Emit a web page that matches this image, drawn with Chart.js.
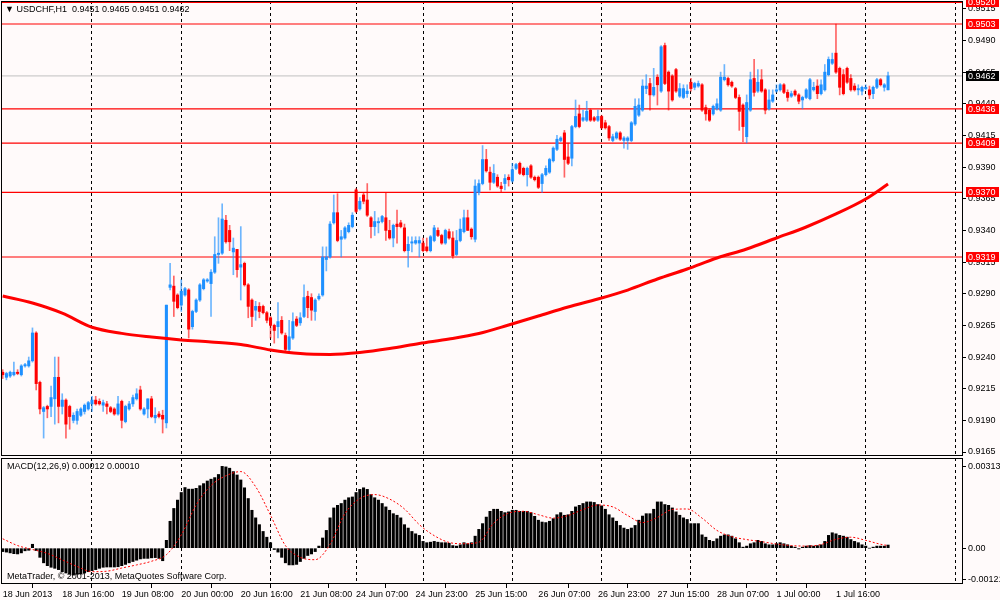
<!DOCTYPE html>
<html lang="en">
<head>
<meta charset="UTF-8">
<title>USDCHF,H1</title>
<script src="https://cdn.jsdelivr.net/npm/chart.js"></script>
<style>
  body { margin: 0; background: #fffafa; font-family: "Liberation Sans", Arial, sans-serif; }
  #wrap { position: relative; width: 1000px; height: 600px; overflow: hidden; background: #fffafa; }
  #mainBox { position: absolute; left: 0; top: 0; width: 1000px; height: 457px; }
  #macdBox { position: absolute; left: 0; top: 457px; width: 1000px; height: 143px; }
  .lbl { position: absolute; font-size: 9px; line-height: 11px; color: #000; white-space: pre; }
</style>
</head>
<body>
<div id="wrap">
  <div id="mainBox"><canvas id="mainChart"></canvas></div>
  <div id="macdBox"><canvas id="macdChart"></canvas></div>
  <div class="lbl" style="left:5px;top:4px;">▼ USDCHF,H1  0.9451 0.9465 0.9451 0.9462</div>
  <div class="lbl" style="left:7px;top:461px;">MACD(12,26,9) 0.00012 0.00010</div>
  <div class="lbl" style="left:7px;top:571px;">MetaTrader, © 2001-2013, MetaQuotes Software Corp.</div>
</div>

<script>
// candles, H1, 18 Jun 2013 00:00 .. 2 Jul 2013 06:00
const opens = [
  0.9228,0.9224,0.9225,0.9226,0.9228,0.9226,0.9233,0.9233,0.9237,0.9259,
  0.9220,0.9197,0.9201,0.9201,0.9207,0.9224,0.9201,0.9206,0.9201,0.9190,
  0.9190,0.9194,0.9197,0.9199,0.9203,0.9206,0.9205,0.9202,0.9203,0.9200,
  0.9199,0.9195,0.9205,0.9189,0.9199,0.9203,0.9207,0.9214,0.9195,0.9199,
  0.9207,0.9192,0.9195,0.9194,0.9188,0.9295,0.9296,0.9289,0.9281,0.9289,
  0.9293,0.9264,0.9276,0.9285,0.9294,0.9300,0.9298,0.9307,0.9321,0.9322,
  0.9348,0.9340,0.9323,0.9325,0.9311,0.9314,0.9297,0.9285,0.9277,0.9280,
  0.9280,0.9275,0.9271,0.9265,0.9264,0.9269,0.9257,0.9246,0.9255,0.9270,
  0.9267,0.9272,0.9288,0.9287,0.9276,0.9286,0.9289,0.9317,0.9319,0.9346,
  0.9354,0.9333,0.9334,0.9339,0.9343,0.9372,0.9357,0.9368,0.9364,0.9350,
  0.9343,0.9346,0.9347,0.9350,0.9340,0.9334,0.9345,0.9346,0.9342,0.9324,
  0.9330,0.9330,0.9330,0.9330,0.9327,0.9324,0.9332,0.9340,0.9336,0.9330,
  0.9339,0.9334,0.9321,0.9332,0.9339,0.9350,0.9341,0.9333,0.9370,0.9377,
  0.9396,0.9386,0.9378,0.9382,0.9375,0.9377,0.9382,0.9379,0.9389,0.9393,
  0.9389,0.9384,0.9391,0.9382,0.9382,0.9377,0.9384,0.9386,0.9395,0.9404,
  0.9411,0.9417,0.9398,0.9397,0.9422,0.9432,0.9427,0.9427,0.9435,0.9429,
  0.9427,0.9430,0.9425,0.9422,0.9411,0.9413,0.9417,0.9411,0.9411,0.9411,
  0.9424,0.9431,0.9435,0.9452,0.9456,0.9447,0.9461,0.9450,0.9486,0.9465,
  0.9462,0.9467,0.9446,0.9445,0.9448,0.9457,0.9453,0.9454,0.9455,0.9437,
  0.9435,0.9432,0.9436,0.9435,0.9459,0.9460,0.9457,0.9452,0.9445,0.9439,
  0.9414,0.9435,0.9460,0.9450,0.9459,0.9451,0.9436,0.9442,0.9450,0.9451,
  0.9455,0.9449,0.9446,0.9450,0.9447,0.9443,0.9445,0.9444,0.9451,0.9454,
  0.9448,0.9451,0.9463,0.9472,0.9480,0.9468,0.9463,0.9468,0.9460,0.9454,
  0.9451,0.9450,0.9452,0.9451,0.9448,0.9453,0.9459,0.9453,0.9451
];
const highs = [
  0.9230,0.9228,0.9229,0.9236,0.9230,0.9234,0.9235,0.9240,0.9263,0.9260,
  0.9221,0.9201,0.9202,0.9217,0.9240,0.9240,0.9211,0.9207,0.9202,0.9196,
  0.9199,0.9200,0.9203,0.9205,0.9209,0.9209,0.9207,0.9206,0.9205,0.9201,
  0.9200,0.9209,0.9206,0.9202,0.9205,0.9210,0.9215,0.9217,0.9200,0.9207,
  0.9209,0.9200,0.9197,0.9198,0.9281,0.9314,0.9304,0.9290,0.9301,0.9295,
  0.9294,0.9277,0.9286,0.9298,0.9302,0.9302,0.9309,0.9335,0.9350,0.9361,
  0.9352,0.9344,0.9334,0.9325,0.9343,0.9315,0.9298,0.9286,0.9284,0.9283,
  0.9281,0.9276,0.9272,0.9266,0.9283,0.9272,0.9259,0.9269,0.9275,0.9272,
  0.9275,0.9297,0.9292,0.9290,0.9286,0.9290,0.9327,0.9327,0.9347,0.9368,
  0.9369,0.9340,0.9343,0.9346,0.9354,0.9373,0.9366,0.9370,0.9377,0.9351,
  0.9355,0.9350,0.9352,0.9370,0.9348,0.9345,0.9356,0.9348,0.9345,0.9335,
  0.9335,0.9335,0.9335,0.9334,0.9334,0.9336,0.9344,0.9342,0.9337,0.9341,
  0.9341,0.9339,0.9340,0.9349,0.9356,0.9356,0.9342,0.9380,0.9380,0.9407,
  0.9404,0.9390,0.9392,0.9384,0.9378,0.9384,0.9384,0.9393,0.9393,0.9394,
  0.9390,0.9390,0.9392,0.9383,0.9383,0.9385,0.9391,0.9397,0.9406,0.9415,
  0.9414,0.9419,0.9409,0.9423,0.9443,0.9439,0.9435,0.9442,0.9436,0.9430,
  0.9435,0.9431,0.9427,0.9423,0.9416,0.9418,0.9418,0.9414,0.9414,0.9426,
  0.9444,0.9444,0.9459,0.9463,0.9460,0.9468,0.9463,0.9486,0.9488,0.9466,
  0.9463,0.9468,0.9456,0.9455,0.9455,0.9460,0.9457,0.9458,0.9456,0.9439,
  0.9436,0.9439,0.9444,0.9465,0.9471,0.9461,0.9458,0.9453,0.9447,0.9440,
  0.9447,0.9465,0.9475,0.9467,0.9467,0.9452,0.9451,0.9451,0.9455,0.9456,
  0.9456,0.9451,0.9450,0.9451,0.9448,0.9446,0.9452,0.9460,0.9457,0.9459,
  0.9459,0.9471,0.9477,0.9480,0.9503,0.9469,0.9467,0.9469,0.9463,0.9456,
  0.9455,0.9454,0.9455,0.9454,0.9454,0.9460,0.9460,0.9456,0.9465
];
const lows = [
  0.9223,0.9222,0.9224,0.9225,0.9226,0.9225,0.9232,0.9232,0.9236,0.9214,
  0.9195,0.9176,0.9192,0.9193,0.9187,0.9188,0.9195,0.9176,0.9183,0.9188,
  0.9187,0.9193,0.9195,0.9198,0.9197,0.9202,0.9202,0.9197,0.9195,0.9196,
  0.9194,0.9194,0.9184,0.9188,0.9198,0.9201,0.9206,0.9198,0.9194,0.9192,
  0.9192,0.9188,0.9192,0.9180,0.9184,0.9293,0.9272,0.9278,0.9276,0.9288,
  0.9255,0.9262,0.9275,0.9284,0.9293,0.9299,0.9272,0.9306,0.9314,0.9321,
  0.9330,0.9324,0.9305,0.9303,0.9285,0.9296,0.9271,0.9264,0.9269,0.9271,
  0.9274,0.9267,0.9255,0.9251,0.9255,0.9258,0.9244,0.9245,0.9254,0.9264,
  0.9265,0.9271,0.9271,0.9269,0.9269,0.9285,0.9288,0.9308,0.9318,0.9345,
  0.9331,0.9319,0.9333,0.9338,0.9342,0.9354,0.9356,0.9361,0.9351,0.9334,
  0.9336,0.9338,0.9346,0.9332,0.9333,0.9327,0.9330,0.9342,0.9323,0.9311,
  0.9323,0.9329,0.9319,0.9323,0.9323,0.9323,0.9331,0.9335,0.9329,0.9329,
  0.9333,0.9318,0.9320,0.9331,0.9338,0.9340,0.9333,0.9331,0.9368,0.9376,
  0.9386,0.9372,0.9377,0.9374,0.9370,0.9372,0.9375,0.9378,0.9388,0.9384,
  0.9383,0.9375,0.9381,0.9379,0.9373,0.9370,0.9383,0.9385,0.9394,0.9403,
  0.9410,0.9382,0.9392,0.9391,0.9421,0.9421,0.9426,0.9426,0.9426,0.9426,
  0.9426,0.9420,0.9420,0.9411,0.9410,0.9412,0.9411,0.9405,0.9404,0.9410,
  0.9423,0.9430,0.9434,0.9448,0.9435,0.9446,0.9439,0.9449,0.9455,0.9435,
  0.9442,0.9449,0.9445,0.9444,0.9445,0.9450,0.9451,0.9453,0.9434,0.9427,
  0.9426,0.9431,0.9435,0.9434,0.9458,0.9454,0.9453,0.9444,0.9419,0.9410,
  0.9409,0.9434,0.9446,0.9449,0.9449,0.9432,0.9435,0.9441,0.9449,0.9450,
  0.9448,0.9442,0.9445,0.9446,0.9440,0.9436,0.9444,0.9443,0.9450,0.9444,
  0.9447,0.9450,0.9462,0.9471,0.9464,0.9447,0.9447,0.9456,0.9450,0.9450,
  0.9447,0.9447,0.9451,0.9444,0.9444,0.9452,0.9454,0.9450,0.9451
];
const closes = [
  0.9226,0.9227,0.9228,0.9228,0.9227,0.9233,0.9234,0.9237,0.9259,0.9219,
  0.9199,0.9200,0.9199,0.9208,0.9224,0.9201,0.9206,0.9187,0.9193,0.9194,
  0.9197,0.9199,0.9202,0.9204,0.9206,0.9203,0.9203,0.9204,0.9201,0.9197,
  0.9195,0.9203,0.9190,0.9201,0.9203,0.9208,0.9211,0.9199,0.9199,0.9207,
  0.9193,0.9194,0.9193,0.9191,0.9281,0.9297,0.9284,0.9279,0.9292,0.9294,
  0.9262,0.9276,0.9285,0.9297,0.9301,0.9301,0.9307,0.9321,0.9322,0.9349,
  0.9331,0.9331,0.9326,0.9309,0.9313,0.9297,0.9280,0.9272,0.9280,0.9276,
  0.9275,0.9269,0.9265,0.9261,0.9268,0.9259,0.9246,0.9256,0.9268,0.9265,
  0.9271,0.9287,0.9279,0.9277,0.9285,0.9288,0.9319,0.9319,0.9345,0.9354,
  0.9332,0.9335,0.9342,0.9344,0.9352,0.9355,0.9363,0.9363,0.9352,0.9343,
  0.9347,0.9347,0.9351,0.9340,0.9334,0.9344,0.9343,0.9343,0.9324,0.9329,
  0.9331,0.9332,0.9332,0.9324,0.9324,0.9335,0.9342,0.9336,0.9330,0.9340,
  0.9334,0.9320,0.9332,0.9341,0.9350,0.9340,0.9335,0.9375,0.9377,0.9396,
  0.9387,0.9378,0.9385,0.9375,0.9373,0.9381,0.9380,0.9388,0.9392,0.9385,
  0.9384,0.9389,0.9382,0.9380,0.9374,0.9384,0.9389,0.9396,0.9405,0.9412,
  0.9413,0.9396,0.9393,0.9422,0.9430,0.9422,0.9429,0.9434,0.9427,0.9427,
  0.9430,0.9421,0.9421,0.9413,0.9414,0.9417,0.9412,0.9413,0.9413,0.9425,
  0.9438,0.9439,0.9454,0.9454,0.9447,0.9453,0.9455,0.9485,0.9456,0.9450,
  0.9443,0.9450,0.9452,0.9452,0.9450,0.9452,0.9456,0.9456,0.9435,0.9432,
  0.9427,0.9438,0.9440,0.9461,0.9461,0.9455,0.9454,0.9445,0.9434,0.9422,
  0.9441,0.9459,0.9449,0.9457,0.9450,0.9435,0.9443,0.9447,0.9451,0.9455,
  0.9449,0.9445,0.9448,0.9447,0.9442,0.9445,0.9451,0.9459,0.9453,0.9448,
  0.9455,0.9465,0.9475,0.9475,0.9465,0.9453,0.9448,0.9457,0.9451,0.9451,
  0.9452,0.9453,0.9453,0.9447,0.9453,0.9459,0.9455,0.9455,0.9462
];

// moving average, read at every 8th bar
const maIdx = [0,8,16,24,32,40,48,56,64,72,80,88,96,104,112,120,128,136,144,152,160,168,176,184,192,200,208,216,224,232,238];
const maVals = [0.92882,0.92827,0.92747,0.92635,0.92587,0.92558,0.92535,0.92519,0.92499,0.92456,0.92428,0.92421,0.92436,0.92467,0.92507,0.92542,0.92586,0.92653,0.92724,0.92795,0.92858,0.92929,0.93016,0.93095,0.93182,0.93253,0.93340,0.93427,0.93530,0.93648,0.93766];

// MACD histogram, one per bar
const macdHist = [
  -0.00013,-0.00015,-0.00018,-0.00021,-0.00022,-0.00018,-0.00010,-0.00008,0.00015,-0.00009,
  -0.00035,-0.00056,-0.00067,-0.00073,-0.00077,-0.00082,-0.00090,-0.00095,-0.00100,-0.00103,
  -0.00100,-0.00099,-0.00095,-0.00090,-0.00086,-0.00082,-0.00077,-0.00073,-0.00072,-0.00072,
  -0.00072,-0.00071,-0.00067,-0.00062,-0.00056,-0.00051,-0.00046,-0.00041,-0.00039,-0.00039,
  -0.00037,-0.00036,-0.00039,-0.00048,0.00030,0.00103,0.00152,0.00184,0.00213,0.00232,
  0.00226,0.00226,0.00229,0.00239,0.00247,0.00257,0.00264,0.00270,0.00282,0.00313,
  0.00311,0.00306,0.00293,0.00280,0.00261,0.00231,0.00190,0.00145,0.00116,0.00090,
  0.00064,0.00042,0.00021,-0.00005,-0.00015,-0.00035,-0.00056,-0.00064,-0.00064,-0.00062,
  -0.00051,-0.00039,-0.00028,-0.00022,-0.00013,0.00008,0.00039,0.00068,0.00116,0.00154,
  0.00164,0.00171,0.00184,0.00193,0.00196,0.00213,0.00225,0.00231,0.00225,0.00205,
  0.00193,0.00184,0.00171,0.00158,0.00145,0.00132,0.00126,0.00116,0.00090,0.00077,
  0.00064,0.00055,0.00049,0.00026,0.00021,0.00023,0.00026,0.00023,0.00021,0.00021,
  0.00019,0.00010,0.00008,0.00013,0.00021,0.00017,0.00021,0.00046,0.00072,0.00094,
  0.00119,0.00141,0.00149,0.00149,0.00141,0.00136,0.00139,0.00145,0.00145,0.00141,
  0.00141,0.00141,0.00136,0.00122,0.00107,0.00100,0.00098,0.00103,0.00113,0.00128,
  0.00136,0.00126,0.00128,0.00141,0.00158,0.00164,0.00171,0.00177,0.00177,0.00175,
  0.00167,0.00162,0.00149,0.00128,0.00116,0.00103,0.00087,0.00077,0.00072,0.00077,
  0.00087,0.00107,0.00123,0.00132,0.00132,0.00149,0.00177,0.00177,0.00167,0.00164,
  0.00154,0.00139,0.00126,0.00116,0.00110,0.00094,0.00094,0.00094,0.00051,0.00042,
  0.00030,0.00026,0.00036,0.00046,0.00051,0.00051,0.00046,0.00036,0.00021,0.00004,
  0.00008,0.00017,0.00021,0.00030,0.00026,0.00017,0.00013,0.00013,0.00017,0.00021,
  0.00017,0.00013,0.00008,0.00004,-0.00003,0.00004,0.00008,0.00010,0.00008,0.00010,
  0.00013,0.00026,0.00049,0.00059,0.00055,0.00049,0.00046,0.00042,0.00033,0.00026,
  0.00021,0.00013,0.00008,0.00000,0.00004,0.00008,0.00008,0.00008,0.00012
];
// signal line, read at every 4th bar
const signalIdx = [0,4,8,12,16,20,24,28,32,36,40,44,48,52,56,60,64,68,72,76,80,84,88,92,96,100,104,108,112,116,120,124,128,132,136,140,144,148,152,156,160,164,168,172,176,180,184,188,192,196,200,204,208,212,216,220,224,228,232,236,238];
const signalVals = [0.00036,0.00010,-0.00005,-0.00020,-0.00045,-0.00070,-0.00090,-0.00088,-0.00076,-0.00064,-0.00050,-0.00025,0.00051,0.00165,0.00240,0.00277,0.00293,0.00235,0.00126,0.00010,-0.00035,-0.00044,0.00015,0.00132,0.00190,0.00205,0.00188,0.00150,0.00090,0.00048,0.00022,0.00017,0.00023,0.00096,0.00134,0.00141,0.00128,0.00115,0.00125,0.00148,0.00165,0.00158,0.00125,0.00098,0.00118,0.00148,0.00150,0.00115,0.00068,0.00044,0.00033,0.00025,0.00016,0.00010,0.00008,0.00014,0.00034,0.00042,0.00030,0.00015,0.00010];

const levelPrices = [0.9520, 0.9503, 0.9436, 0.9409, 0.9370, 0.9319];
const lastPrice = 0.9462;
const priceTicks = [0.9165,0.9190,0.9215,0.9240,0.9265,0.9290,0.9315,0.9340,0.9365,0.9390,0.9415,0.9440,0.9465,0.9490,0.9515];
const macdTicks = [-0.00121, 0, 0.00313];
const timeTickIdx = [0,16,32,48,64,80,95,111,127,144,160,176,192,208,224];
const timeTickLabels = ['18 Jun 2013','18 Jun 16:00','19 Jun 08:00','20 Jun 00:00','20 Jun 16:00','21 Jun 08:00','24 Jun 07:00','24 Jun 23:00','25 Jun 15:00','26 Jun 07:00','26 Jun 23:00','27 Jun 15:00','28 Jun 07:00','1 Jul 00:00','1 Jul 16:00'];
const daySeparators = [24,48,72,95,113,137,161,185,208,232,256];

const X_MIN = -0.46, X_MAX = 258.15;
const FONT = '"Liberation Sans", Arial, sans-serif';
const BLUE = '#1e90ff', RED = '#ff0000';

Chart.defaults.font.family = FONT;
Chart.defaults.font.size = 9;
Chart.defaults.color = '#000';

// black frame round each panel
const framePlugin = {
  id: 'frame',
  afterDraw(chart) {
    const a = chart.chartArea, ctx = chart.ctx;
    ctx.save();
    ctx.strokeStyle = '#000';
    ctx.lineWidth = 1;
    ctx.strokeRect(Math.round(a.left) + 0.5, Math.round(a.top) + 0.5,
      Math.round(a.right - a.left) - 1, Math.round(a.bottom - a.top) - 1);
    ctx.restore();
  }
};

// price tags on the right scale
const tagPlugin = {
  id: 'tags',
  afterDraw(chart) {
    const y = chart.scales.y, ctx = chart.ctx, a = chart.chartArea;
    ctx.save();
    ctx.font = '9px ' + FONT;
    ctx.textBaseline = 'middle';
    const tag = (p, bg) => {
      const py = Math.round(y.getPixelForValue(p));
      ctx.fillStyle = bg;
      ctx.fillRect(a.right + 3, py - 5, 33, 10);
      ctx.fillStyle = '#fff';
      ctx.fillText(p.toFixed(4), a.right + 5, py + 0.5);
    };
    levelPrices.forEach(p => tag(p, RED));
    tag(lastPrice, '#000');
    ctx.restore();
  }
};

// no extra room for the first and last labels
const noEdgePadding = s => {
  s.paddingTop = 0; s.paddingBottom = 0; s.paddingLeft = 0; s.paddingRight = 0;
};

const sepAxis = {
  type: 'linear', min: X_MIN, max: X_MAX, offset: false, position: 'bottom',
  afterBuildTicks: s => { s.ticks = daySeparators.map(v => ({ value: v })); },
  afterFit: s => { s.height = 0; noEdgePadding(s); },
  ticks: { display: false },
  grid: { color: '#000', lineWidth: 1, drawTicks: false, offset: false },
  border: { display: false, dash: [3, 3] }
};

const candleColors = opens.map((o, i) => closes[i] >= o ? BLUE : RED);
const wickColors = opens.map((o, i) => closes[i] >= o ? 'rgba(30,144,255,0.65)' : 'rgba(255,0,0,0.6)');

const levelSets = levelPrices.map(p => ({
  type: 'line', order: 4,
  data: [{ x: X_MIN, y: p }, { x: X_MAX, y: p }],
  borderColor: RED, borderWidth: 1.2, pointRadius: 0
}));

new Chart(document.getElementById('mainChart'), {
  type: 'bar',
  data: {
    datasets: [
      {
        type: 'line', order: 0,
        data: maIdx.map((x, k) => ({ x, y: maVals[k] })),
        borderColor: RED, borderWidth: 3, pointRadius: 0,
        cubicInterpolationMode: 'monotone'
      },
      {
        order: 1, grouped: false,
        data: opens.map((o, i) => ({ x: i, y: [o, closes[i]] })),
        backgroundColor: candleColors, barThickness: 2.4, minBarLength: 1, borderWidth: 0
      },
      {
        order: 2, grouped: false,
        data: opens.map((o, i) => ({ x: i, y: [lows[i], highs[i]] })),
        backgroundColor: wickColors, barThickness: 1, borderWidth: 0
      },
      {
        type: 'line', order: 3,
        data: [{ x: X_MIN, y: lastPrice }, { x: X_MAX, y: lastPrice }],
        borderColor: '#c0c0c0', borderWidth: 1, pointRadius: 0
      },
      ...levelSets
    ]
  },
  options: {
    responsive: true, maintainAspectRatio: false, animation: false, events: [],
    layout: { padding: { left: 1, right: 0, top: 1, bottom: 1 } },
    plugins: { legend: { display: false }, tooltip: { enabled: false } },
    scales: {
      x: sepAxis,
      y: {
        position: 'right', min: 0.916185, max: 0.952116,
        afterBuildTicks: s => { s.ticks = priceTicks.map(v => ({ value: v })); },
        afterFit: s => { s.width = 37; noEdgePadding(s); },
        ticks: { padding: 2, callback: v => v.toFixed(4) },
        grid: { drawOnChartArea: false, drawTicks: true, tickLength: 3, color: '#000' },
        border: { display: false }
      }
    }
  },
  plugins: [framePlugin, tagPlugin]
});

new Chart(document.getElementById('macdChart'), {
  type: 'bar',
  data: {
    datasets: [
      {
        type: 'line', order: 0,
        data: signalIdx.map((x, k) => ({ x, y: signalVals[k] })),
        borderColor: RED, borderWidth: 1, borderDash: [2, 2], pointRadius: 0,
        cubicInterpolationMode: 'monotone'
      },
      {
        order: 1,
        data: macdHist.map((v, i) => ({ x: i, y: v })),
        backgroundColor: '#000', barThickness: 2.4, borderWidth: 0
      }
    ]
  },
  options: {
    responsive: true, maintainAspectRatio: false, animation: false, events: [],
    layout: { padding: { left: 1, right: 0, top: 1, bottom: 0 } },
    plugins: { legend: { display: false }, tooltip: { enabled: false } },
    scales: {
      x: {
        type: 'linear', min: X_MIN, max: X_MAX, offset: false, position: 'bottom',
        afterBuildTicks: s => { s.ticks = timeTickIdx.map(v => ({ value: v })); },
        afterFit: s => { s.height = 16; noEdgePadding(s); },
        ticks: { align: 'start', autoSkip: false, maxRotation: 0, minRotation: 0, padding: 1,
                 callback: (v, i) => timeTickLabels[i] },
        grid: { drawOnChartArea: false, drawTicks: true, tickLength: 4, color: '#000' },
        border: { display: false }
      },
      x2: sepAxis,
      y: {
        position: 'right', min: -0.00137, max: 0.00345,
        afterBuildTicks: s => { s.ticks = macdTicks.map(v => ({ value: v })); },
        afterFit: s => { s.width = 37; noEdgePadding(s); },
        ticks: { padding: 2, callback: v => v === 0 ? '0.00' : v.toFixed(5) },
        grid: { drawOnChartArea: false, drawTicks: true, tickLength: 3, color: '#000' },
        border: { display: false }
      }
    }
  },
  plugins: [framePlugin]
});
</script>
</body>
</html>
